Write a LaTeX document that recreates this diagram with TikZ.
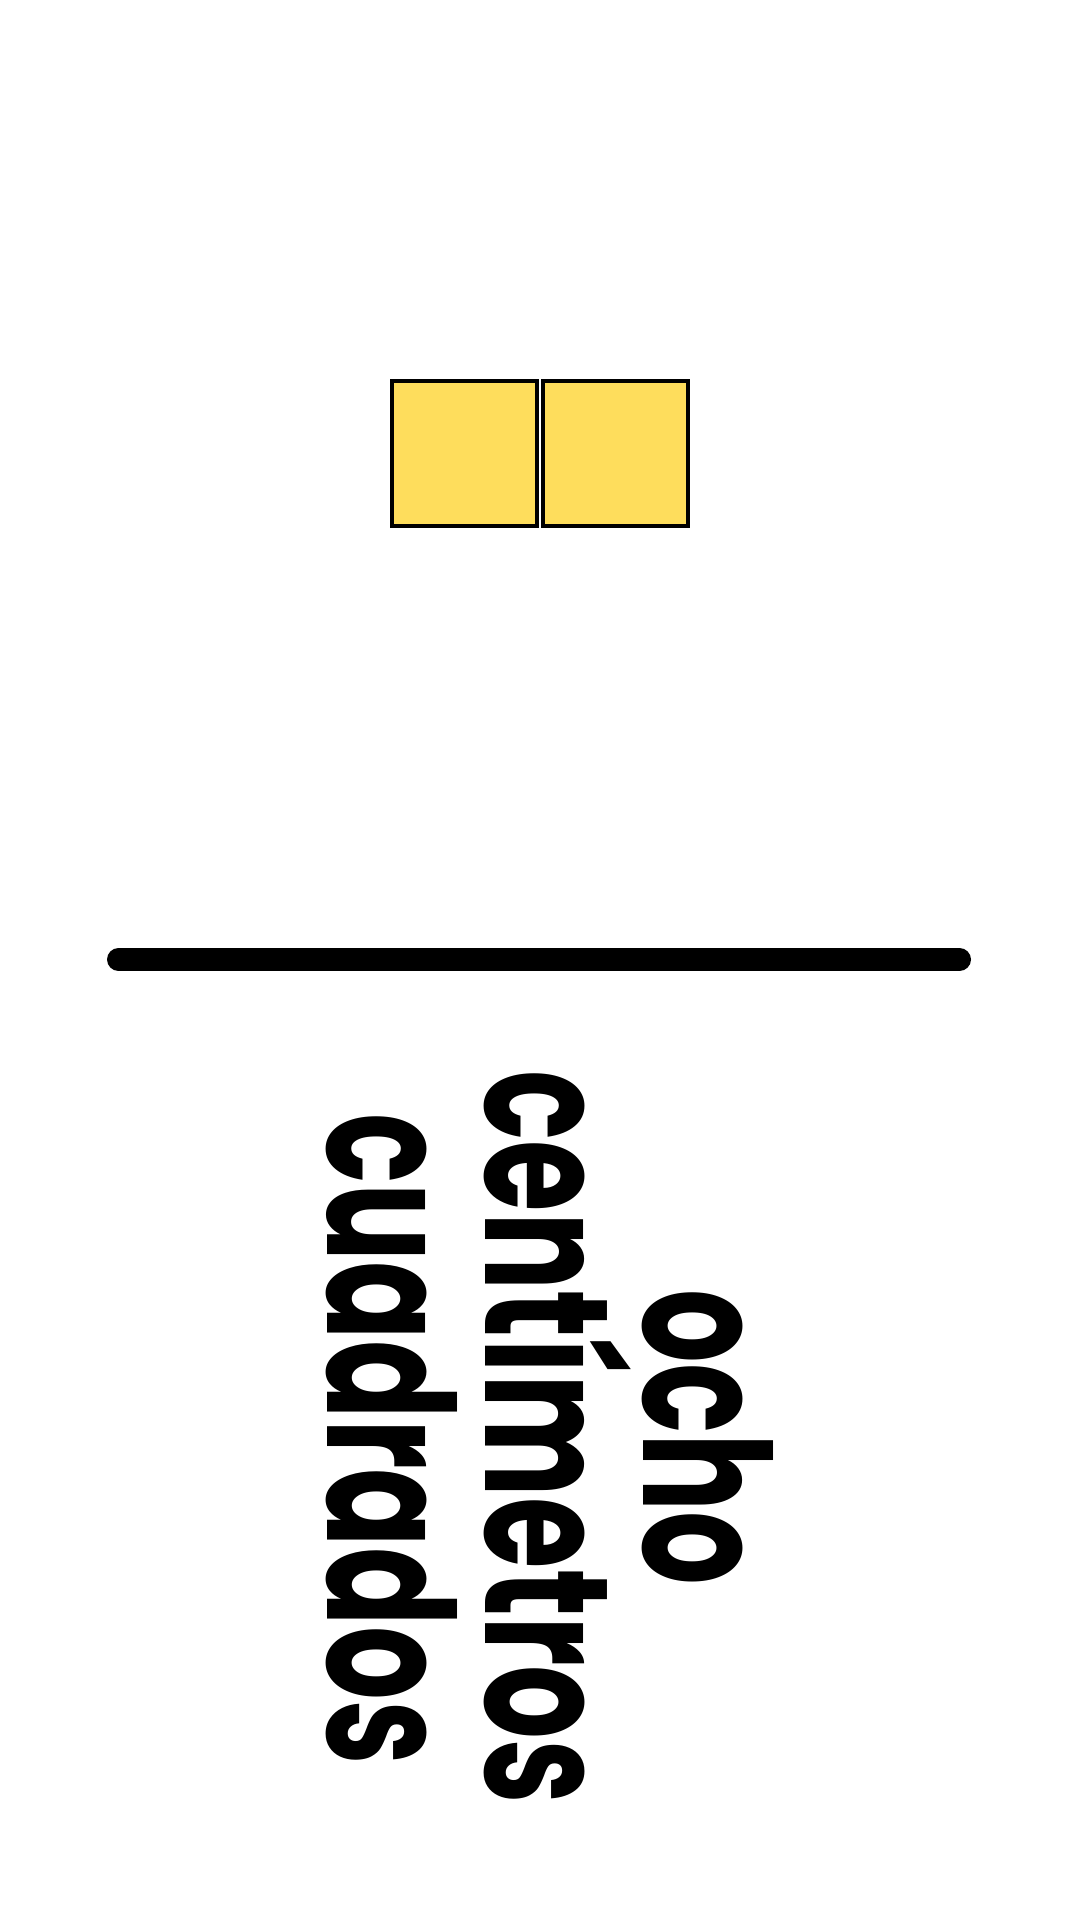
\documentclass[tikz,border=0pt]{standalone}
\usepackage{fontspec}
\usepackage{tikz}
\usetikzlibrary{positioning}
\newfontfamily\redonda{Poppins}[FakeStretch=0.66]
\definecolor{amarillo}{RGB}{254,221,92}

\begin{document}
\begin{tikzpicture}[x=0.1mm,y=-0.1mm,
    cuadro/.style={draw,line width=0.4mm,fill=amarillo,minimum size=14.5mm,inner sep=0pt},
    texto/.style={rotate=-90,anchor=base,inner sep=0pt,font=\redonda\bfseries\fontsize{50pt}{50pt}\selectfont}]
        \useasboundingbox(0,0)rectangle(1080,1920);
        % cuadros
        \node[cuadro](c1)at(464,453.5){};
        \node[cuadro](c2)at(615,453.5){};
        % raya
        \coordinate(A)at(118.5,959.5);
        \coordinate(B)at(959.5,959.5);
        \draw[line width=2.3mm,line cap=round](A)to(B);
        % texto
        \node[texto](t1)at(643,1437.5){ocho};
        \node[texto](t2)at(485,1437.5){centímetros};
        \node[texto](t3)at(327,1439){cuadrados};
    \end{tikzpicture}
\end{document}
